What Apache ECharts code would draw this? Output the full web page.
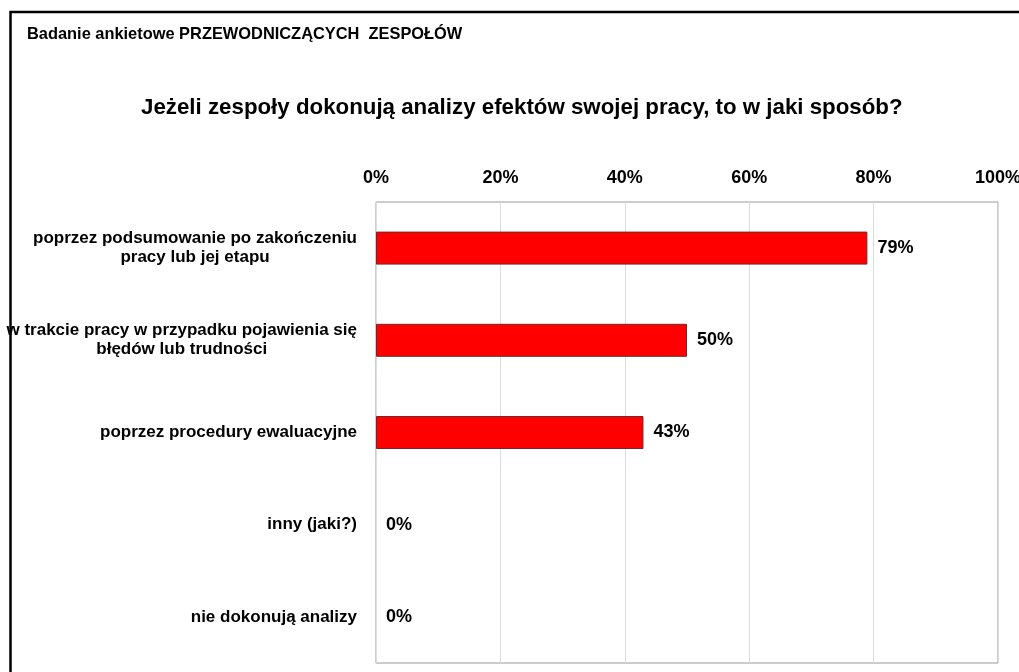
<!DOCTYPE html>
<html>
<head>
<meta charset="utf-8">
<script src="https://cdn.jsdelivr.net/npm/echarts@6/dist/echarts.min.js"></script>
<style>
html,body{margin:0;padding:0;background:#fff;overflow:hidden;}
#chart{width:1019px;height:672px;}
</style>
</head>
<body>
<div id="chart"></div>
<script>
const categories = [
  "poprzez podsumowanie po zakończeniu\npracy lub jej etapu",
  "w trakcie pracy w przypadku pojawienia się\nbłędów lub trudności",
  "poprzez procedury ewaluacyjne",
  "inny (jaki?)",
  "nie dokonują analizy"
];
const values = [79, 50, 43, 0, 0];
const tickMin = 0, tickMax = 100, tickStep = 20;
const subtitleText = "Badanie ankietowe PRZEWODNICZĄCYCH  ZESPOŁÓW";
const titleText = "Jeżeli zespoły dokonują analizy efektów swojej pracy, to w jaki sposób?";

const FONT = '"Liberation Sans", Arial, sans-serif';
const chart = echarts.init(document.getElementById('chart'));
chart.setOption({
  animation: false,
  backgroundColor: '#fff',
  title: [
    { text: subtitleText, left: 22, top: 21,
      textStyle: { fontFamily: FONT, fontSize: 16.4, fontWeight: 'bold', color: '#000' } },
    { text: titleText, left: 136, top: 92,
      textStyle: { fontFamily: FONT, fontSize: 22.3, fontWeight: 'bold', color: '#000' } }
  ],
  graphic: [{
    type: 'rect', silent: true, z: 100,
    shape: { x: 10.5, y: 12, width: 1040, height: 700 },
    style: { fill: 'none', stroke: '#000', lineWidth: 2.5 }
  }],
  grid: { left: 376, right: 21, top: 202, bottom: 9, show: true,
          outerBoundsMode: 'none', containLabel: false,
          borderColor: '#9a9a9a', borderWidth: 1, backgroundColor: '#fff' },
  xAxis: {
    type: 'value', position: 'top', min: tickMin, max: tickMax, interval: tickStep,
    axisLine: { show: false }, axisTick: { show: false },
    splitLine: { show: true, lineStyle: { color: '#dcdcdc', width: 1 } },
    axisLabel: { formatter: '{value}%', margin: 15, fontFamily: FONT, fontSize: 18,
                 fontWeight: 'bold', color: '#000' }
  },
  yAxis: {
    type: 'category', data: categories, inverse: true,
    axisLine: { show: false }, axisTick: { show: false },
    axisLabel: {
      margin: 19, align: 'right', interval: 0,
      formatter: function (v) {
        return v.split('\n').map(function (l) { return '{c|' + l + '}'; }).join('\n');
      },
      rich: { c: { align: 'center', fontFamily: FONT, fontSize: 17, fontWeight: 'bold',
                   color: '#000', lineHeight: 19 } }
    }
  },
  series: [{
    type: 'bar',
    data: values.map(function (v) {
      return { value: v, itemStyle: { borderWidth: v > 0 ? 1 : 0 } };
    }),
    barWidth: 33,
    itemStyle: { color: '#ff0000', borderColor: '#6b2a2a', borderWidth: 1 },
    label: { show: true, position: 'right', distance: 10, formatter: '{c}%',
             fontFamily: FONT, fontSize: 18, fontWeight: 'bold', color: '#000' }
  }]
});
</script>
</body>
</html>
